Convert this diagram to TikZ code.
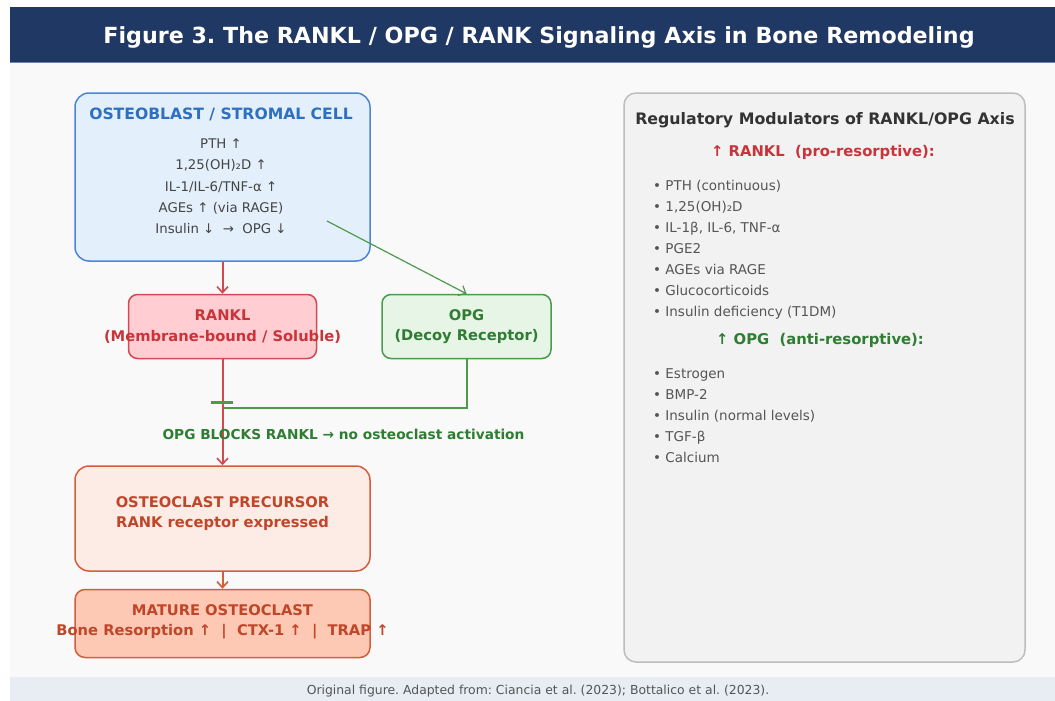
\documentclass[tikz,border=0pt]{standalone}
\usepackage{fontspec}
\setmainfont{DejaVu Sans}
\usetikzlibrary{positioning,arrows.meta,calc}
\frenchspacing

\definecolor{titleBlue}{HTML}{203864}
\definecolor{titleLine}{HTML}{6F84AC}
\definecolor{bgGrey}{HTML}{F9F9F9}
\definecolor{footBand}{HTML}{E8EDF4}
\definecolor{oblastLine}{HTML}{4A86D8}
\definecolor{oblastFill}{HTML}{E3F0FC}
\definecolor{oblastText}{HTML}{2F6FC0}
\definecolor{bodyText}{HTML}{444444}
\definecolor{ranklLine}{HTML}{D24A4F}
\definecolor{ranklFill}{HTML}{FFCDD2}
\definecolor{ranklText}{HTML}{C8343A}
\definecolor{opgLine}{HTML}{4C9A4C}
\definecolor{opgFill}{HTML}{E7F5E7}
\definecolor{opgText}{HTML}{2E7D32}
\definecolor{clastLine}{HTML}{D35F3A}
\definecolor{clastFill}{HTML}{FDEBE6}
\definecolor{matureFill}{HTML}{FDC8B4}
\definecolor{clastText}{HTML}{C0462A}
\definecolor{panelFill}{HTML}{F2F2F2}
\definecolor{panelLine}{HTML}{BDBDBD}
\definecolor{panelText}{HTML}{333333}
\definecolor{listText}{HTML}{555555}

\def\boxLW{1.5pt}
\tikzset
{
  CellBox/.style=
  {
    draw,
    rounded corners=14pt,
    line width=\boxLW,
    inner sep=0pt,
  },
  BoxLabel/.style=
  {
    font=\bfseries\fontsize{14.7}{20.5}\selectfont,
  },
  Arrow/.style=
  {
    line width=2pt,
    -{Straight Barb[length=6pt,width=11pt,line width=1.6pt]},
  },
  ThinArrow/.style=
  {
    line width=1.2pt,
    -{Straight Barb[length=6pt,width=11pt,line width=1.2pt]},
  },
  ListText/.style=
  {
    anchor=north west,
    align=left,
    text=listText,
    font=\fontsize{13.5}{21}\selectfont,
  },
}

\begin{document}
\begin{tikzpicture}
[
  x=1pt, y=-1pt,
  every node/.style={align=center, inner sep=0pt},
]
\useasboundingbox (0,0) rectangle (1055,701);
% page parts
\fill[white] (0,0) rectangle (1055,701);
\fill[bgGrey] (10,62) rectangle (1055,677);
\fill[footBand] (10,677) rectangle (1055,701);
\fill[titleBlue] (10,7) rectangle (1055,62);
\draw[titleLine, line width=1pt] (10,62.5) -- (1055,62.5);
\node (title) [text=white, font=\bfseries\fontsize{22.2}{26}\selectfont] at (539,37)
  {Figure 3. The RANKL / OPG / RANK Signaling Axis in Bone Remodeling};
\node (footer) [text=listText, font=\fontsize{12.4}{14}\selectfont] at (538,691)
  {Original figure. Adapted from: Ciancia et al. (2023); Bottalico et al. (2023).};

% left column
\node (oblast) [CellBox, draw=oblastLine, fill=oblastFill, minimum width=295pt, minimum height=168pt]
  at (222.5,177) {};
\node (oblastTitle) [BoxLabel, text=oblastText, font=\bfseries\fontsize{15.6}{18}\selectfont]
  at (221,114) {OSTEOBLAST / STROMAL CELL};
\node (oblastList) [below=18pt of oblastTitle, text=bodyText, font=\fontsize{13.3}{21.2}\selectfont]
  {PTH ↑\\1,25(OH)₂D ↑\\IL-1/IL-6/TNF-α ↑\\AGEs ↑ (via RAGE)\\Insulin ↓ \ → \ OPG ↓};

\node (rankl) [CellBox, rounded corners=9pt, draw=ranklLine, fill=ranklFill,
  minimum width=188pt, minimum height=64pt, below=32pt of oblast] {};
\node (ranklTxt) [BoxLabel, text=ranklText] at (rankl) {RANKL\\(Membrane-bound / Soluble)};

\node (opg) [CellBox, rounded corners=9pt, draw=opgLine, fill=opgFill,
  minimum width=169pt, minimum height=64pt, right=64pt of rankl] {};
\node (opgTxt) [BoxLabel, text=opgText] at (opg) {OPG\\(Decoy Receptor)};

\node (precursor) [CellBox, draw=clastLine, fill=clastFill,
  minimum width=295pt, minimum height=105pt, below=106pt of rankl.south, anchor=north] {};
\node (precursorTxt) [BoxLabel, text=clastText] at ($(precursor)+(0,-5)$)
  {OSTEOCLAST PRECURSOR\\RANK receptor expressed};

\node (mature) [CellBox, rounded corners=10pt, draw=clastLine, fill=matureFill,
  minimum width=295pt, minimum height=68pt, below=17pt of precursor] {};
\node (matureTxt) [BoxLabel, text=clastText] at ($(mature)+(0,-1.5)$)
  {MATURE OSTEOCLAST\\Bone Resorption ↑ \ | \ CTX-1 ↑ \ | \ TRAP ↑};

% connectors
\coordinate (opgSrc) at (327,221);
\coordinate (block) at (222,408);
\draw[Arrow, ranklLine] (oblast.south -| rankl.north) -- (rankl.north);
\draw[ThinArrow, opgLine] (opgSrc) -- (opg.north);
\draw[opgLine, line width=2pt] (opg.south) |- (block);
\draw[Arrow, ranklLine] (rankl.south) -- (precursor.north);
\draw[opgLine, line width=3pt] ($(block)+(-11,-6)$) -- ++(22,0);
\draw[Arrow, clastLine] (precursor.south) -- (mature.north);
\node (blockTxt) [text=opgText, font=\bfseries\fontsize{13.7}{16}\selectfont] at (343.5,434)
  {OPG BLOCKS RANKL → no osteoclast activation};

% modulators panel
\node (panel) [CellBox, rounded corners=12pt, draw=panelLine, fill=panelFill,
  minimum width=401pt, minimum height=569pt] at (824.5,377.5) {};
\node (panelTitle) [text=panelText, font=\bfseries\fontsize{15.8}{18}\selectfont] at (825,120)
  {Regulatory Modulators of RANKL/OPG Axis};
\node (proHead) [text=ranklText, font=\bfseries\fontsize{14.8}{17}\selectfont] at (823,152)
  {↑ RANKL \ (pro-resorptive):};
\node (proList) [ListText] at (653,180)
  {• PTH (continuous)\\• 1,25(OH)₂D\\• IL-1β, IL-6, TNF-α\\• PGE2\\• AGEs via RAGE\\%
   • Glucocorticoids\\• Insulin deficiency (T1DM)};
\node (antiHead) [text=opgText, font=\bfseries\fontsize{14.8}{17}\selectfont] at (820,340)
  {↑ OPG \ (anti-resorptive):};
\node (antiList) [ListText] at (653,368)
  {• Estrogen\\• BMP-2\\• Insulin (normal levels)\\• TGF-β\\• Calcium};
\end{tikzpicture}
\end{document}
